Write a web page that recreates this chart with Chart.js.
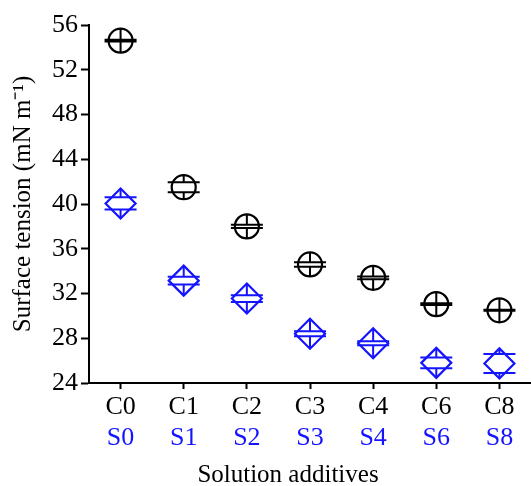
<!DOCTYPE html>
<html>
<head>
<meta charset="utf-8">
<script src="https://cdn.jsdelivr.net/npm/chart.js@4/dist/chart.umd.min.js"></script>
<style>
  html, body { margin: 0; padding: 0; background: #fff; }
  canvas { display: block; }
</style>
</head>
<body>
<canvas id="chart" width="531" height="486"></canvas>
<script>
// Surface tension of the C and S additive solutions (mean and error)
const cLabels = ['C0', 'C1', 'C2', 'C3', 'C4', 'C6', 'C8'];
const sLabels = ['S0', 'S1', 'S2', 'S3', 'S4', 'S6', 'S8'];
const cValues = [54.6, 41.5, 38.0, 34.6, 33.4, 31.05, 30.5];
const cErrors = [0.08, 0.45, 0.15, 0.2, 0.12, 0.08, 0.04];
const sValues = [40.05, 33.15, 31.55, 28.4, 27.55, 25.8, 25.75];
const sErrors = [0.55, 0.35, 0.3, 0.22, 0.18, 0.49, 0.85];
const yMin = 24, yMax = 56, yStep = 4;

const BLUE = 'rgb(20,20,255)';
const FONT = 'Liberation Serif, Times New Roman, serif';
const errorSets = [cErrors, sErrors];

// Caps plus the short vertical stubs between the marker edge and each cap
const errorBars = {
  id: 'errorBars',
  afterDatasetsDraw(chart) {
    const ctx = chart.ctx;
    const yScale = chart.scales.y;
    chart.data.datasets.forEach((ds, di) => {
      const meta = chart.getDatasetMeta(di);
      const errs = errorSets[di];
      const r = ds.pointRadius;
      ctx.save();
      ctx.strokeStyle = ds.borderColor;
      ctx.lineWidth = 2;
      meta.data.forEach((pt, i) => {
        const v = ds.data[i];
        const yHi = yScale.getPixelForValue(v + errs[i]);
        const yLo = yScale.getPixelForValue(v - errs[i]);
        const x = pt.x, y = pt.y;
        ctx.beginPath();
        ctx.moveTo(x - 16, yHi); ctx.lineTo(x + 16, yHi);
        ctx.moveTo(x - 16, yLo); ctx.lineTo(x + 16, yLo);
        ctx.moveTo(x, y - r); ctx.lineTo(x, yHi);
        ctx.moveTo(x, yLo); ctx.lineTo(x, y + r);
        ctx.stroke();
      });
      ctx.restore();
    });
  }
};

// Axis title under the two label rows
const xTitle = {
  id: 'xTitle',
  afterDraw(chart) {
    const ctx = chart.ctx;
    ctx.save();
    ctx.fillStyle = '#000';
    ctx.font = '25px ' + FONT;
    ctx.textAlign = 'center';
    ctx.textBaseline = 'middle';
    ctx.fillText('Solution additives', 288, 475);
    ctx.restore();
  }
};

new Chart(document.getElementById('chart'), {
  type: 'line',
  data: {
    labels: cLabels,
    datasets: [
      {
        label: 'C',
        data: cValues,
        showLine: false,
        pointStyle: 'circle',
        pointRadius: 12,
        pointBorderWidth: 2.2,
        borderColor: '#000',
        pointBorderColor: '#000',
        pointBackgroundColor: 'rgba(0,0,0,0)'
      },
      {
        label: 'S',
        data: sValues,
        showLine: false,
        pointStyle: 'rectRot',
        pointRadius: 15,
        pointBorderWidth: 2.2,
        borderColor: BLUE,
        pointBorderColor: BLUE,
        pointBackgroundColor: 'rgba(0,0,0,0)'
      }
    ]
  },
  options: {
    responsive: false,
    animation: false,
    devicePixelRatio: 1,
    layout: { autoPadding: false, padding: { top: 25, right: 0, left: 0, bottom: 0 } },
    plugins: {
      legend: { display: false },
      tooltip: { enabled: false }
    },
    scales: {
      x: {
        type: 'category',
        position: 'bottom',
        offset: true,
        grid: { drawOnChartArea: false, tickLength: 6, tickWidth: 2, tickColor: '#000' },
        border: { color: '#000', width: 2 },
        ticks: { color: '#000', font: { family: FONT, size: 26 }, padding: 3, maxRotation: 0 },
        afterFit(scale) { scale.height = 40; }
      },
      x2: {
        type: 'category',
        position: 'bottom',
        labels: sLabels,
        offset: true,
        grid: { display: false, drawTicks: false },
        border: { display: false },
        ticks: { color: BLUE, font: { family: FONT, size: 26 }, padding: 0, maxRotation: 0 },
        afterFit(scale) { scale.height = 63; }
      },
      y: {
        min: yMin,
        max: yMax,
        grid: { drawOnChartArea: false, tickLength: 8, tickWidth: 2, tickColor: '#000' },
        border: { color: '#000', width: 2 },
        ticks: { stepSize: yStep, color: '#000', font: { family: FONT, size: 26 }, padding: 3 },
        title: {
          display: true,
          text: 'Surface tension (mN m\u207B\u00B9)',
          color: '#000',
          font: { family: FONT, size: 25 },
          padding: { top: 8, bottom: 0 }
        },
        afterFit(scale) { scale.width = 89; }
      }
    }
  },
  plugins: [errorBars, xTitle]
});
</script>
</body>
</html>
